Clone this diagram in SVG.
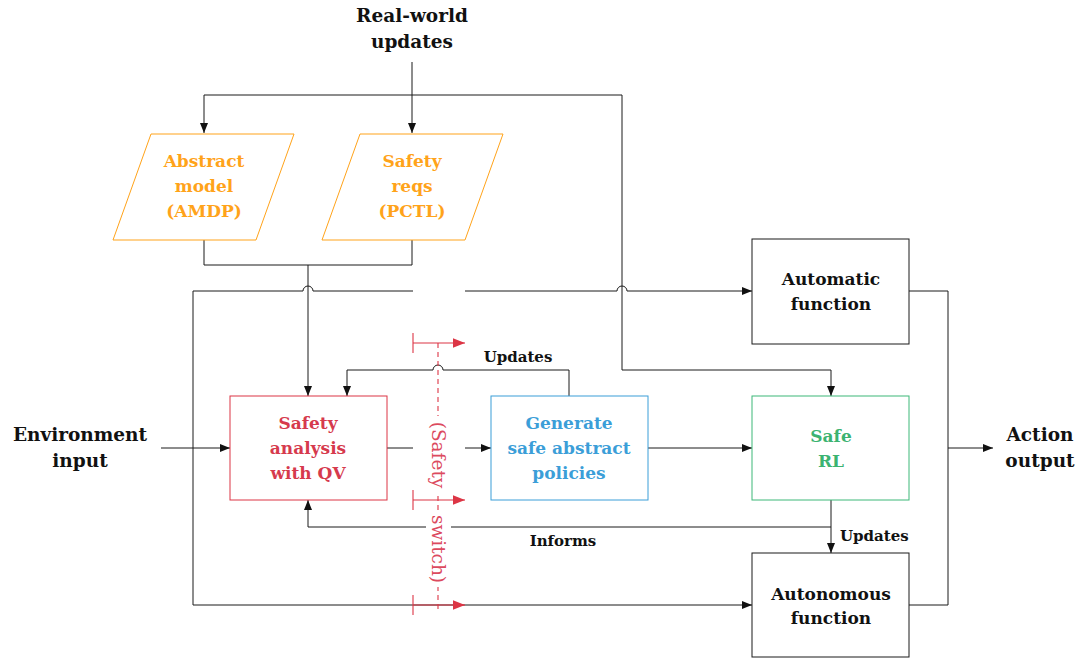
<svg xmlns="http://www.w3.org/2000/svg" width="1088" height="659" viewBox="0 0 1088 659">
  <defs>
    <marker id="arr" viewBox="0 0 10 10" refX="10" refY="5" markerWidth="10" markerHeight="10" markerUnits="userSpaceOnUse" orient="auto">
      <path d="M0,1 L10,5 L0,9 Z" fill="#111"/>
    </marker>
    <marker id="arrRed" viewBox="0 0 10 10" refX="10" refY="5" markerWidth="12" markerHeight="12" markerUnits="userSpaceOnUse" orient="auto">
      <path d="M0,1 L10,5 L0,9 Z" fill="#dc3545"/>
    </marker>
  </defs>
  <style>
    text { font-family: "DejaVu Serif", "Liberation Serif", serif; font-weight: bold; text-anchor: middle; }
    .big { font-size: 18.5px; fill: #111; }
    .node { font-size: 17px; }
    .lbl { font-size: 15px; fill: #111; }
    .wire { fill: none; stroke: #1a1a1a; stroke-width: 1; }
    .box { fill: #fff; stroke-width: 1; }
    .plain { stroke: #1a1a1a; }
    .orange { stroke: #ffa31a; }
    .red { stroke: #dc3545; }
    .blue { stroke: #3b9ed8; }
    .green { stroke: #3cb878; }
    .tOrange { fill: #ffa31a; }
    .tRed { fill: #d63a4d; }
    .tBlue { fill: #3b9ed8; }
    .tGreen { fill: #3cb371; }
    .sw { fill: none; stroke: #dc3545; stroke-width: 1.1; }
    .swText { font-family: "DejaVu Serif", "Liberation Serif", serif; font-weight: normal; font-size: 18.5px; fill: #dc4a5e; }
  </style>

  <rect width="1088" height="659" fill="#fff"/>

  <!-- connectors -->
  <g id="connectors">
    <path class="wire" d="M412,62 V133" marker-end="url(#arr)"/>
    <path class="wire" d="M412,95 H204 V133" marker-end="url(#arr)"/>
    <path class="wire" d="M412,95 H622 V370 H831 V396" marker-end="url(#arr)"/>
    <path class="wire" d="M204,240 V265 H412 V240"/>
    <path class="wire" d="M308,265 V396" marker-end="url(#arr)"/>
    <path class="wire" d="M161,448 H230" marker-end="url(#arr)"/>
    <path class="wire" d="M413,291 H313 a5,5 0 0 0 -10,0 H193 V605 H752" marker-end="url(#arr)"/>
    <path class="wire" d="M465,291 H617 a5,5 0 0 1 10,0 H752" marker-end="url(#arr)"/>
    <path class="wire" d="M387,448 H413"/>
    <path class="wire" d="M465,448 H491" marker-end="url(#arr)"/>
    <path class="wire" d="M569,396 V370 H443 a5,5 0 0 0 -10,0 H347 V396" marker-end="url(#arr)"/>
    <path class="wire" d="M648,448 H752" marker-end="url(#arr)"/>
    <path class="wire" d="M831,500 V553" marker-end="url(#arr)"/>
    <path class="wire" d="M831,527 H308 V500" marker-end="url(#arr)"/>
    <path class="wire" d="M909,291 H948 V605 H909"/>
    <path class="wire" d="M948,448 H993" marker-end="url(#arr)"/>
    <text class="lbl" x="518" y="362">Updates</text>
    <text class="lbl" x="563" y="546">Informs</text>
    <text class="lbl" x="840" y="541" style="text-anchor:start">Updates</text>
  </g>

  <!-- safety switch -->
  <g id="switch">
    <path class="sw" d="M438,343 V612" stroke-dasharray="5,4"/>
    <path class="sw" d="M413,333 V353 M413,490 V510 M413,595 V615"/>
    <path class="sw" d="M413,343 H465" marker-end="url(#arrRed)"/>
    <path class="sw" d="M413,500 H465" marker-end="url(#arrRed)"/>
    <path class="sw" d="M413,605 H465" marker-end="url(#arrRed)"/>
    <rect x="426" y="416" width="25" height="78" fill="#fff"/>
    <rect x="426" y="512" width="25" height="75" fill="#fff"/>
    <text class="swText" transform="translate(438,455) rotate(90)" dominant-baseline="central">(Safety</text>
    <text class="swText" transform="translate(438,549) rotate(90)" dominant-baseline="central">switch)</text>
  </g>

  <!-- external inputs / outputs -->
  <g id="realworld">
    <text class="big" x="412" y="22">Real-world</text>
    <text class="big" x="412" y="48">updates</text>
  </g>
  <g id="envinput">
    <text class="big" x="80" y="441">Environment</text>
    <text class="big" x="80" y="467">input</text>
  </g>
  <g id="actionoutput">
    <text class="big" x="1040" y="441">Action</text>
    <text class="big" x="1040" y="467">output</text>
  </g>

  <!-- nodes -->
  <g id="abstract-model">
    <polygon class="box orange" points="151,134 294,134 256,240 113,240"/>
    <text class="node tOrange" x="204" y="167">Abstract</text>
    <text class="node tOrange" x="204" y="192">model</text>
    <text class="node tOrange" x="204" y="217">(AMDP)</text>
  </g>
  <g id="safety-reqs">
    <polygon class="box orange" points="360,134 503,134 465,240 322,240"/>
    <text class="node tOrange" x="412" y="167">Safety</text>
    <text class="node tOrange" x="412" y="192">reqs</text>
    <text class="node tOrange" x="412" y="217">(PCTL)</text>
  </g>
  <g id="safety-analysis">
    <rect class="box red" x="230" y="396" width="157" height="104"/>
    <text class="node tRed" x="308" y="429">Safety</text>
    <text class="node tRed" x="308" y="454">analysis</text>
    <text class="node tRed" x="308" y="479">with QV</text>
  </g>
  <g id="generate-policies">
    <rect class="box blue" x="491" y="396" width="157" height="104"/>
    <text class="node tBlue" x="569" y="429">Generate</text>
    <text class="node tBlue" x="569" y="454">safe abstract</text>
    <text class="node tBlue" x="569" y="479">policies</text>
  </g>
  <g id="safe-rl">
    <rect class="box green" x="752" y="396" width="157" height="104"/>
    <text class="node tGreen" x="831" y="442">Safe</text>
    <text class="node tGreen" x="831" y="467">RL</text>
  </g>
  <g id="automatic-function">
    <rect class="box plain" x="752" y="239" width="157" height="105"/>
    <text class="node" x="831" y="285" fill="#111">Automatic</text>
    <text class="node" x="831" y="310" fill="#111">function</text>
  </g>
  <g id="autonomous-function">
    <rect class="box plain" x="752" y="553" width="157" height="104"/>
    <text class="node" x="831" y="600" fill="#111">Autonomous</text>
    <text class="node" x="831" y="624" fill="#111">function</text>
  </g>
</svg>
